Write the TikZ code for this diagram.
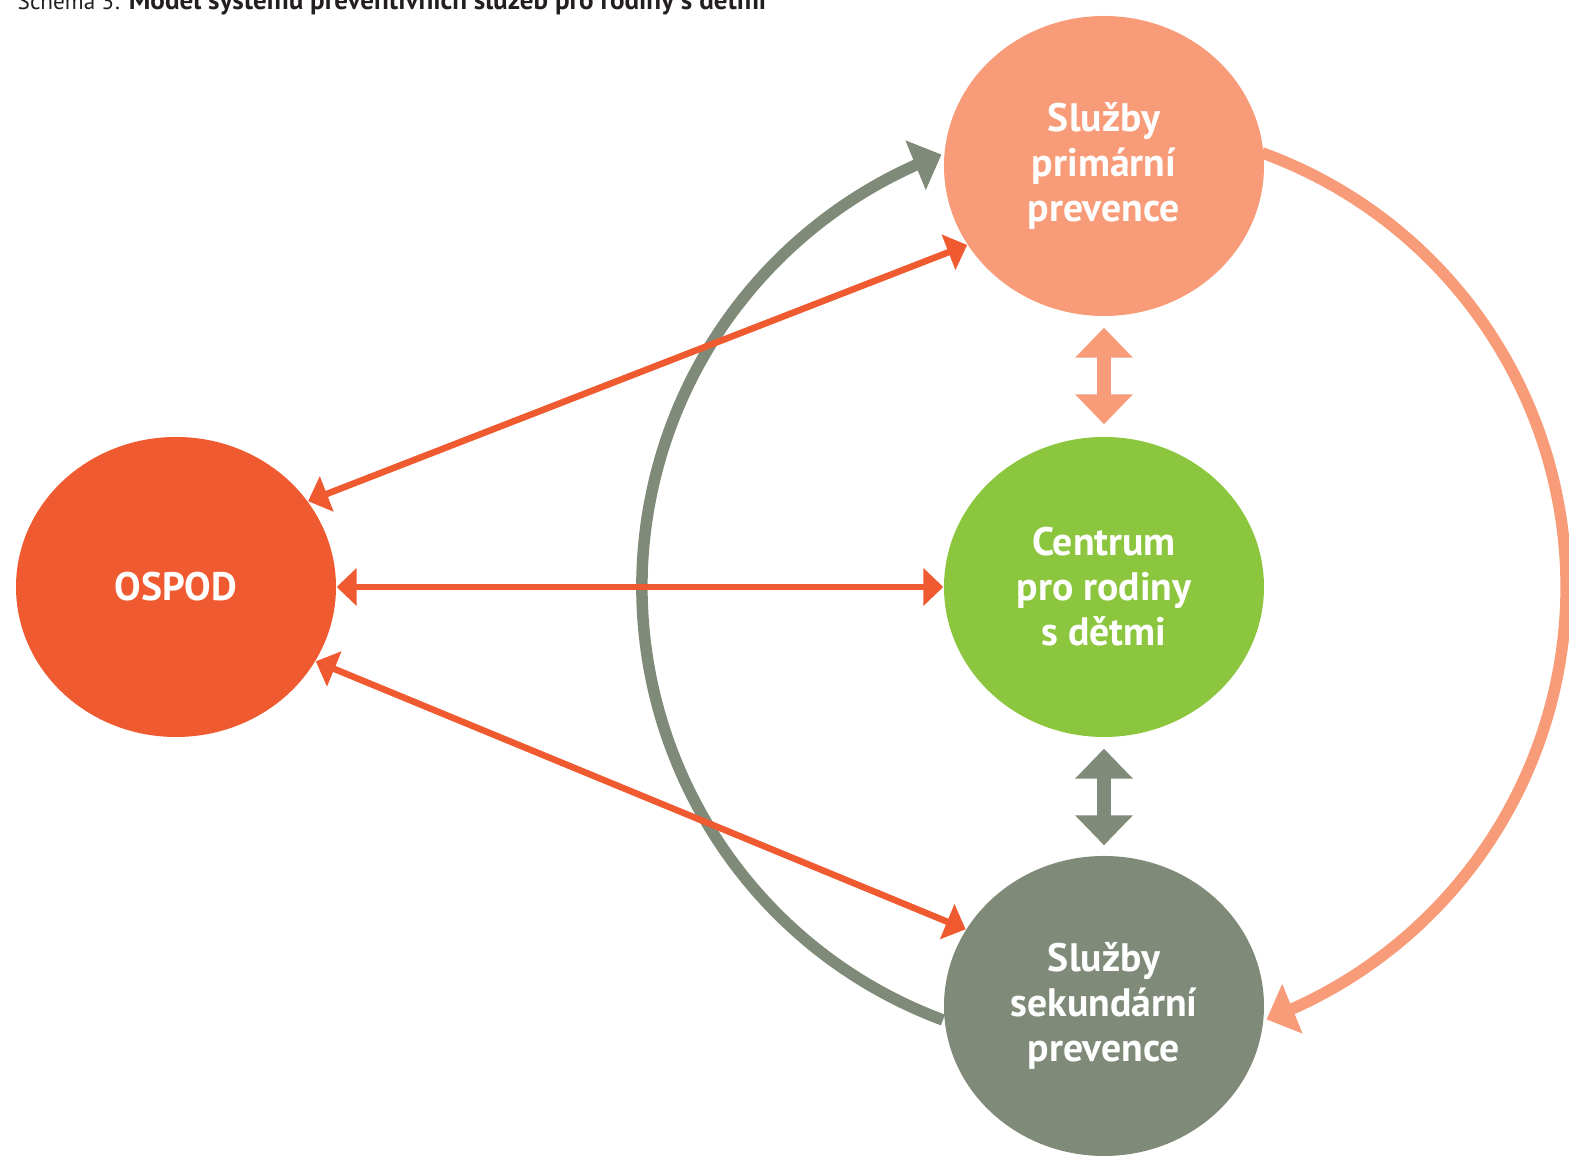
\documentclass[tikz,border=0pt]{standalone}
\usepackage{fontspec}
\setmainfont{PT Sans}
\usetikzlibrary{arrows.meta,bending,shapes.geometric}
\definecolor{primcol}{HTML}{F89B78}
\definecolor{cencol}{HTML}{8CC63F}
\definecolor{sekcol}{HTML}{7F8A78}
\definecolor{ospcol}{HTML}{F05A30}
\definecolor{titcol}{HTML}{231F20}
\tikzset{
  kruh/.style={
    ellipse, draw=none, inner sep=0pt,
    minimum width=3.2cm, minimum height=3cm,
    align=center, text=white,
    font=\bfseries\fontsize{11.3}{12.8}\selectfont
  },
  vazba/.style={
    draw=ospcol, line width=0.065cm,
    {Triangle[width=0.37cm,length=0.2cm]}-{Triangle[width=0.37cm,length=0.2cm]}
  },
  blok/.style={
    line width=0.14cm,
    {Triangle[width=0.56cm,length=0.3cm]}-{Triangle[width=0.56cm,length=0.3cm]}
  },
  oblouk/.style={
    line width=0.115cm, -{Triangle[width=0.52cm,length=0.28cm,flex]}
  }
}

\begin{document}
\begin{tikzpicture}
\useasboundingbox (0,0) rectangle (15.69,11.58);
\clip (0,0) rectangle (15.69,11.58);

% --- Title (cut off at the top) ---
\node[anchor=base west, inner sep=0pt, text=titcol,
  font=\fontsize{7.7}{9}\selectfont] (titulek) at (0.17,11.48)
  {{\fontsize{6.6}{8}\selectfont Schéma 3:} \textbf{Model systému preventivních služeb pro rodiny s dětmi}};

% --- Big arcs (drawn first, nodes cover their ends) ---
\coordinate (stred) at (11.04,5.71);
\path (stred) ++(249.6:4.62) coordinate (gstart);
\path (stred) ++(70:4.62) coordinate (sstart);
\draw[oblouk, draw=sekcol] (gstart) arc[start angle=249.6, end angle=110.6, radius=4.62];
\draw[oblouk, draw=primcol] (sstart) arc[start angle=70, end angle=-69.4, radius=4.62];

% --- Nodes ---
\node[kruh, fill=primcol] (prim) at (11.04,9.92) {Služby\\primární\\prevence};
\node[kruh, fill=cencol] (cen) at (stred) {Centrum\\pro rodiny\\s dětmi};
\node[kruh, fill=sekcol] (sek) at (11.04,1.52) {Služby\\sekundární\\prevence};
\node[kruh, fill=ospcol] (osp) at (1.76,5.71) {OSPOD};

% --- OSPOD links ---
\draw[vazba] (osp.33) -- (prim.210);
\draw[vazba] (osp.east) -- (cen.west);
\draw[vazba] (osp.-28) -- (sek.151);

% --- Block arrows ---
\draw[blok, draw=primcol, shorten <=0.11cm, shorten >=0.12cm] (prim.south) -- (cen.north);
\draw[blok, draw=sekcol, shorten <=0.11cm, shorten >=0.10cm] (cen.south) -- (sek.north);

\end{tikzpicture}
\end{document}
